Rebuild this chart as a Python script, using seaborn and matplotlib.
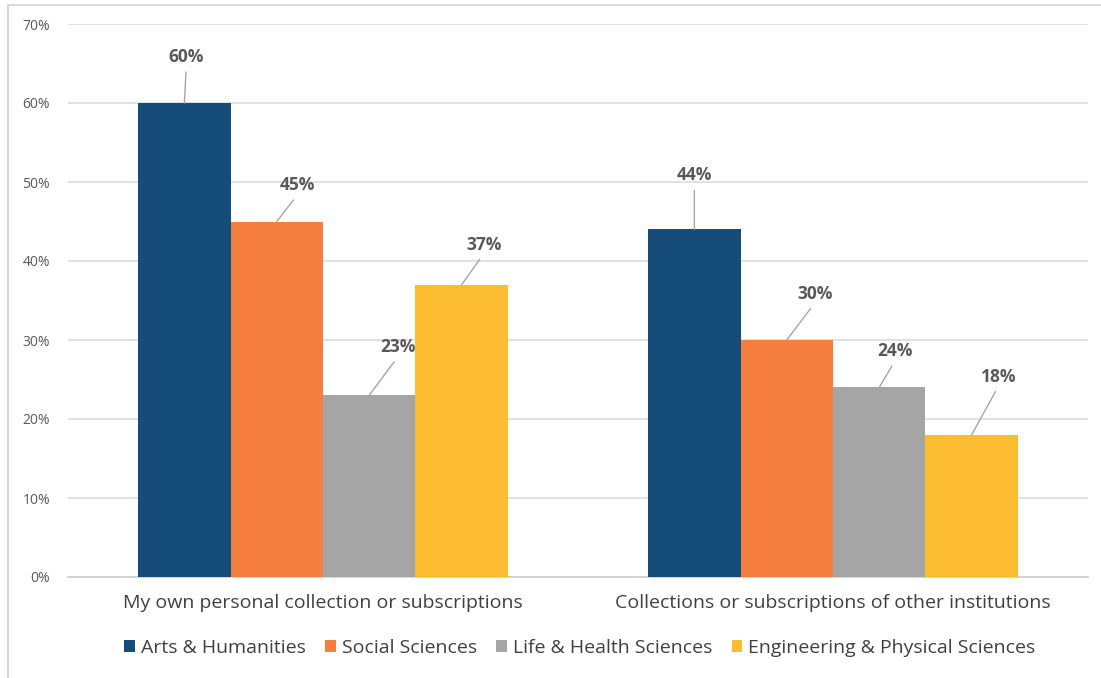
import matplotlib
matplotlib.use("Agg")
import matplotlib.pyplot as plt
import seaborn as sns
import pandas as pd
from matplotlib.ticker import FuncFormatter
from matplotlib.patches import Patch

# ---- data ----
categories = ["My own personal collection or subscriptions",
              "Collections or subscriptions of other institutions"]
disciplines = ["Arts & Humanities", "Social Sciences",
               "Life & Health Sciences", "Engineering & Physical Sciences"]
arts_humanities = [60, 44]
social_sciences = [45, 30]
life_health = [23, 24]
engineering_physical = [37, 18]
y_ticks = [0, 10, 20, 30, 40, 50, 60, 70]

# ---- style ----
colors = ["#154c79", "#f47f3e", "#a5a5a5", "#fdbd33"]
label_offsets = {  # pixel offsets of data labels (per discipline, per category)
    "Arts & Humanities": [(2, 46), (0, 54)],
    "Social Sciences": [(21, 36), (28, 46)],
    "Life & Health Sciences": [(29, 48), (16, 36)],
    "Engineering & Physical Sciences": [(22, 40), (27, 58)],
}

series = [arts_humanities, social_sciences, life_health, engineering_physical]
rows = []
for d, vals in zip(disciplines, series):
    for c, v in zip(categories, vals):
        rows.append({"Category": c, "Discipline": d, "Value": v})
df = pd.DataFrame(rows)

sns.set_theme(style="white")
plt.rcParams["font.family"] = ["Open Sans", "DejaVu Sans"]

W, H = 1101, 678
fig = plt.figure(figsize=(W / 100, H / 100), dpi=100)
ax = fig.add_axes([68 / W, (H - 577) / H, (1088 - 68) / W, (577 - 24) / H])

sns.barplot(data=df, x="Category", y="Value", hue="Discipline",
            order=categories, hue_order=disciplines, palette=colors,
            width=0.725, gap=0, dodge=True, saturation=1, ax=ax,
            legend=False, linewidth=0, zorder=3)

ax.set_ylim(0, 70)
ax.set_xlim(-0.5, 1.5)
ax.set_yticks(y_ticks)
ax.yaxis.set_major_formatter(FuncFormatter(lambda v, p: f"{int(v)}%"))
ax.grid(axis="y", color="#d9d9d9", linewidth=1.1, zorder=0)
ax.set_axisbelow(True)
for s in ["top", "right", "left"]:
    ax.spines[s].set_visible(False)
ax.spines["bottom"].set_color("#d0d0d0")
ax.spines["bottom"].set_linewidth(1.3)
ax.set_xlabel("")
ax.set_ylabel("")
ax.tick_params(axis="y", length=0, pad=13, labelsize=10, labelcolor="#595959")
ax.tick_params(axis="x", length=0, pad=12, labelsize=14, labelcolor="#404040")

# data labels with leader lines
for container, d in zip(ax.containers, disciplines):
    for bar, off in zip(container, label_offsets[d]):
        x = bar.get_x() + bar.get_width() / 2
        y = bar.get_height()
        ax.annotate(f"{y:.0f}%", xy=(x, y), xytext=off, textcoords="offset pixels",
                    ha="center", va="center", fontsize=12.5, fontweight="bold",
                    color="#595959", zorder=5,
                    arrowprops=dict(arrowstyle="-", color="#a6a6a6", lw=1,
                                    relpos=(0.5, 0), shrinkA=2, shrinkB=0))

# legend
handles = [Patch(facecolor=c, edgecolor="none") for c in colors]
fig.legend(handles, disciplines, loc="center", ncol=4,
           bbox_to_anchor=(580 / W, 1 - 648 / H), frameon=False,
           fontsize=14, labelcolor="#404040", handlelength=0.55, handleheight=0.55,
           handletextpad=0.3, columnspacing=1.0)

# outer border (top and left visible)
fig.add_artist(plt.Line2D([8 / W, 1], [1 - 5 / H, 1 - 5 / H], transform=fig.transFigure,
                          color="#d9d9d9", lw=1.5))
fig.add_artist(plt.Line2D([8 / W, 8 / W], [0, 1 - 5 / H], transform=fig.transFigure,
                          color="#d9d9d9", lw=1.5))

fig.savefig("out.png", dpi=100)
